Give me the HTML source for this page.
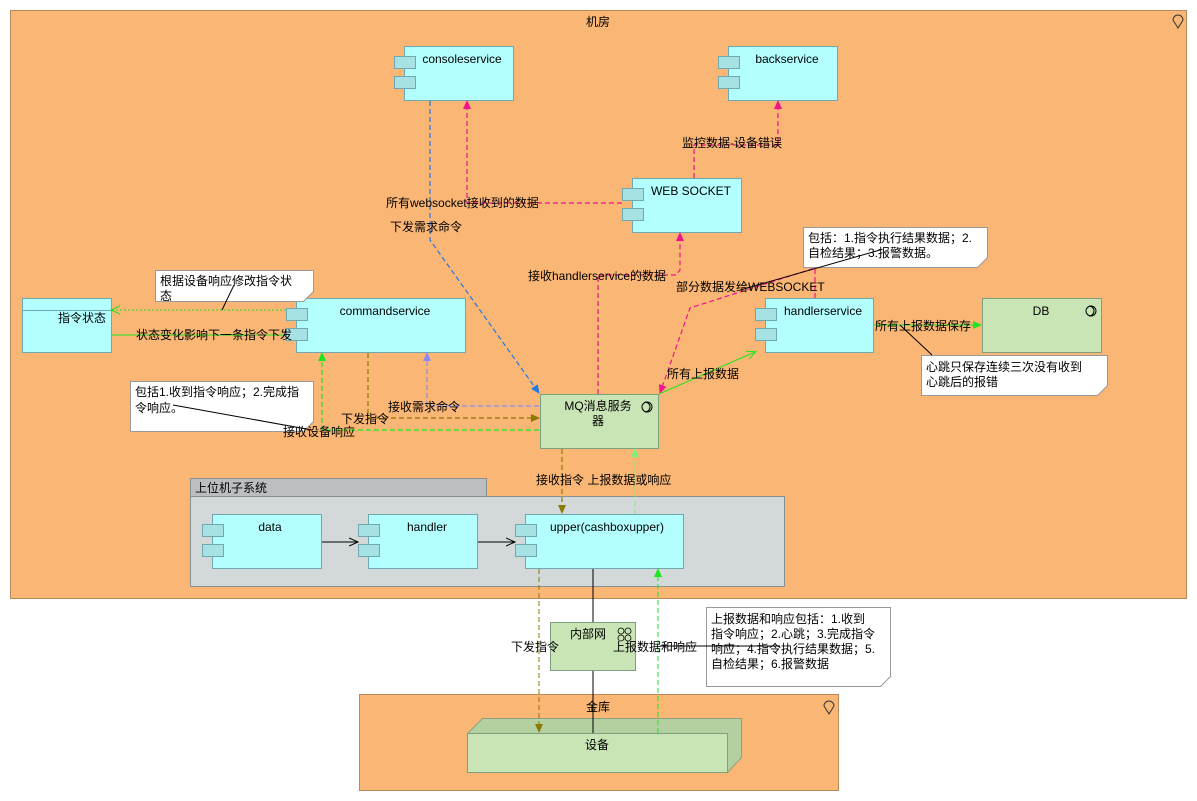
<!DOCTYPE html>
<html><head><meta charset="utf-8"><style>
html,body{margin:0;padding:0;background:#fff;}
svg{display:block;}
text{font-family:"Liberation Sans","Noto Sans CJK SC",sans-serif;font-size:12px;fill:#000;}
.c{fill:#B3FFFF;stroke:#6FA8B0;stroke-width:1;}
.t{fill:#A6E1E3;stroke:#6FA8B0;stroke-width:1;}
.g{fill:#CAE5B5;stroke:#7FA080;stroke-width:1;}
.n{fill:#fff;stroke:#999;stroke-width:1;}
</style></head><body>
<svg width="1197" height="801" viewBox="0 0 1197 801" xmlns="http://www.w3.org/2000/svg">
<defs>
<marker id="ap" markerWidth="10" markerHeight="10" refX="8" refY="5" orient="auto" markerUnits="userSpaceOnUse"><path d="M0,1 L9,5 L0,9 z" fill="#F0148C"/></marker>
<marker id="ab" markerWidth="10" markerHeight="10" refX="8" refY="5" orient="auto" markerUnits="userSpaceOnUse"><path d="M0,1 L9,5 L0,9 z" fill="#1E78E6"/></marker>
<marker id="ag" markerWidth="10" markerHeight="10" refX="8" refY="5" orient="auto" markerUnits="userSpaceOnUse"><path d="M0,1 L9,5 L0,9 z" fill="#1EE61E"/></marker>
<marker id="agl" markerWidth="10" markerHeight="10" refX="8" refY="5" orient="auto" markerUnits="userSpaceOnUse"><path d="M0,1 L9,5 L0,9 z" fill="#7CF07C"/></marker>
<marker id="ao" markerWidth="10" markerHeight="10" refX="8" refY="5" orient="auto" markerUnits="userSpaceOnUse"><path d="M0,1 L9,5 L0,9 z" fill="#8C7A00"/></marker>
<marker id="av" markerWidth="10" markerHeight="10" refX="8" refY="5" orient="auto" markerUnits="userSpaceOnUse"><path d="M0,1 L9,5 L0,9 z" fill="#8C8CF0"/></marker>
<marker id="agn" markerWidth="10" markerHeight="10" refX="8" refY="5" orient="auto" markerUnits="userSpaceOnUse"><path d="M0,1 L9,5 L0,9" fill="none" stroke="#1EE61E"/></marker>
<marker id="agd" markerWidth="10" markerHeight="10" refX="8" refY="5" orient="auto" markerUnits="userSpaceOnUse"><path d="M0,1 L9,5 L0,9" fill="none" stroke="#1EE61E"/></marker>
<marker id="ak" markerWidth="10" markerHeight="10" refX="8" refY="5" orient="auto" markerUnits="userSpaceOnUse"><path d="M0,1 L9,5 L0,9" fill="none" stroke="#000"/></marker>
</defs>

<rect x="10.5" y="10.5" width="1176" height="588" fill="#FAB674" stroke="#B88858"/>
<text x="598" y="26" text-anchor="middle">机房</text>
<path d="M1178,28 L1173,20 A5,5 0 1 1 1183,20 Z" fill="none" stroke="#333"/>

<rect x="190.5" y="478.5" width="296" height="18" fill="#BCBFC0" stroke="#8A9090"/>
<rect x="190.5" y="496.5" width="594" height="90" fill="#D3D9D9" stroke="#8A9090"/>
<text x="195" y="492">上位机子系统</text>

<rect x="359.5" y="694.5" width="479" height="96" fill="#FAB674" stroke="#B88858"/>
<text x="598" y="711" text-anchor="middle">金库</text>
<path d="M829,714 L824,706 A5,5 0 1 1 834,706 Z" fill="none" stroke="#333"/>

<g>
<rect class="c" x="404.5" y="46.5" width="109" height="54"/><rect class="t" x="394.5" y="56.5" width="21" height="12"/><rect class="t" x="394.5" y="76.5" width="21" height="12"/><text x="462" y="63" text-anchor="middle">consoleservice</text>
<rect class="c" x="728.5" y="46.5" width="109" height="54"/><rect class="t" x="718.5" y="56.5" width="21" height="12"/><rect class="t" x="718.5" y="76.5" width="21" height="12"/><text x="787" y="63" text-anchor="middle">backservice</text>
<rect class="c" x="632.5" y="178.5" width="109" height="54"/><rect class="t" x="622.5" y="188.5" width="21" height="12"/><rect class="t" x="622.5" y="208.5" width="21" height="12"/><text x="691" y="195" text-anchor="middle">WEB SOCKET</text>
<rect class="c" x="296.5" y="298.5" width="169" height="54"/><rect class="t" x="286.5" y="308.5" width="21" height="12"/><rect class="t" x="286.5" y="328.5" width="21" height="12"/><text x="385" y="315" text-anchor="middle">commandservice</text>
<rect class="c" x="765.5" y="298.5" width="108" height="54"/><rect class="t" x="755.5" y="308.5" width="21" height="12"/><rect class="t" x="755.5" y="328.5" width="21" height="12"/><text x="823" y="315" text-anchor="middle">handlerservice</text>
<rect class="c" x="212.5" y="514.5" width="109" height="54"/><rect class="t" x="202.5" y="524.5" width="21" height="12"/><rect class="t" x="202.5" y="544.5" width="21" height="12"/><text x="270" y="531" text-anchor="middle">data</text>
<rect class="c" x="368.5" y="514.5" width="109" height="54"/><rect class="t" x="358.5" y="524.5" width="21" height="12"/><rect class="t" x="358.5" y="544.5" width="21" height="12"/><text x="427" y="531" text-anchor="middle">handler</text>
<rect class="c" x="525.5" y="514.5" width="158" height="54"/><rect class="t" x="515.5" y="524.5" width="21" height="12"/><rect class="t" x="515.5" y="544.5" width="21" height="12"/><text x="607" y="531" text-anchor="middle">upper(cashboxupper)</text>
</g>

<rect class="c" x="22.5" y="298.5" width="89" height="54"/>
<line x1="22.5" y1="310.5" x2="111.5" y2="310.5" stroke="#6FA8B0"/>
<text x="82" y="322" text-anchor="middle">指令状态</text>

<rect class="g" x="540.5" y="394.5" width="118" height="54"/>
<text x="598" y="410" text-anchor="middle">MQ消息服务</text>
<text x="598" y="425" text-anchor="middle">器</text>
<circle cx="647" cy="407" r="5" fill="none" stroke="#000"/><path d="M645,402 A5,5 0 0 1 645,412" fill="none" stroke="#000"/>

<rect class="g" x="982.5" y="298.5" width="119" height="54"/>
<text x="1041" y="315" text-anchor="middle">DB</text>
<circle cx="1091" cy="311" r="5" fill="none" stroke="#000"/><path d="M1089,306 A5,5 0 0 1 1089,316" fill="none" stroke="#000"/>

<rect class="g" x="550.5" y="622.5" width="85" height="48"/>
<text x="588" y="638" text-anchor="middle">内部网</text>
<g fill="none" stroke="#000" stroke-width="0.8"><circle cx="621" cy="631" r="3"/><circle cx="628" cy="631" r="3"/><circle cx="621" cy="638" r="3"/><circle cx="628" cy="638" r="3"/></g>

<path d="M467.5,733.5 L482.5,718.5 L741.5,718.5 L741.5,757.5 L727.5,772.5 L727.5,733.5 Z" fill="#B4D0A0" stroke="#8AA080"/>
<rect class="g" x="467.5" y="733.5" width="260" height="39"/>
<text x="597" y="749" text-anchor="middle">设备</text>

<g fill="none" stroke-width="1.2">
<path d="M430,101 L430,240 L539,393" stroke="#1E78E6" stroke-dasharray="5,3" marker-end="url(#ab)"/>
<path d="M622,203 L467,203 L467,101" stroke="#F0148C" stroke-dasharray="5,3" marker-end="url(#ap)"/>
<path d="M694,178 L694,145 L778,145 L778,101" stroke="#F0148C" stroke-dasharray="5,3" marker-end="url(#ap)"/>
<path d="M598,394 L598,275 L676,275 L680,270 L680,233" stroke="#F0148C" stroke-dasharray="5,3" marker-end="url(#ap)"/>
<path d="M815,298 L815,268 L690,308 L660,393" stroke="#F0148C" stroke-dasharray="5,3" marker-end="url(#ap)"/>
<path d="M659,394 L755,352" stroke="#1EE61E" stroke-width="1" marker-end="url(#agn)"/>
<path d="M874,325 L981,325" stroke="#1EE61E" stroke-width="1" marker-end="url(#ag)"/>
<path d="M286,310 L112,310" stroke="#1EE61E" stroke-dasharray="2,2" stroke-width="1" marker-end="url(#agd)"/>
<path d="M286,335 L112,335" stroke="#1EE61E" stroke-width="1"/>
<path d="M539,430 L322,430 L322,353" stroke="#1EE61E" stroke-dasharray="5,3" marker-end="url(#ag)"/>
<path d="M539,406 L427,406 L427,353" stroke="#8C8CF0" stroke-dasharray="5,3" marker-end="url(#av)"/>
<path d="M368,353 L368,418 L539,418" stroke="#8C7A00" stroke-dasharray="5,3" marker-end="url(#ao)"/>
<path d="M562,449 L562,513" stroke="#8C7A00" stroke-dasharray="5,3" marker-end="url(#ao)"/>
<path d="M635,514 L635,449" stroke="#7CF07C" stroke-dasharray="5,3" stroke-width="1" marker-end="url(#agl)"/>
<path d="M322,542 L357,542" stroke="#000" stroke-width="1" marker-end="url(#ak)"/>
<path d="M478,542 L514,542" stroke="#000" stroke-width="1" marker-end="url(#ak)"/>
<path d="M593,569 L593,622 M593,671 L593,733" stroke="#000" stroke-width="1"/>
<path d="M539,569 L539,732" stroke="#8C7A00" stroke-dasharray="5,3" stroke-width="1" marker-end="url(#ao)"/>
<path d="M658,733 L658,569" stroke="#1EE61E" stroke-dasharray="5,3" stroke-width="1" marker-end="url(#ag)"/>
</g>

<path class="n" d="M155.5,270.5 L313.5,270.5 L313.5,291.5 L303.5,301.5 L155.5,301.5 Z"/>
<text x="160" y="285">根据设备响应修改指令状</text><text x="160" y="300">态</text>
<line x1="234" y1="285" x2="222" y2="310" stroke="#000"/>
<path class="n" d="M130.5,381.5 L313.5,381.5 L313.5,421.5 L303.5,431.5 L130.5,431.5 Z"/>
<text x="135" y="396">包括1.收到指令响应；2.完成指</text><text x="135" y="412">令响应。</text>
<line x1="173" y1="405" x2="312" y2="430" stroke="#000"/>
<path class="n" d="M803.5,227.5 L987.5,227.5 L987.5,257.5 L977.5,267.5 L803.5,267.5 Z"/>
<text x="808" y="242">包括：1.指令执行结果数据；2.</text><text x="808" y="257">自检结果；3.报警数据。</text>
<line x1="880" y1="250" x2="740" y2="290" stroke="#000"/>
<path class="n" d="M921.5,355.5 L1107.5,355.5 L1107.5,385.5 L1097.5,395.5 L921.5,395.5 Z"/>
<text x="926" y="371">心跳只保存连续三次没有收到</text><text x="926" y="386">心跳后的报错</text>
<line x1="932" y1="355" x2="900" y2="325" stroke="#000"/>
<path class="n" d="M706.5,607.5 L890.5,607.5 L890.5,676.5 L880.5,686.5 L706.5,686.5 Z"/>
<text x="711" y="623">上报数据和响应包括：1.收到</text><text x="711" y="638">指令响应；2.心跳；3.完成指令</text><text x="711" y="653">响应；4.指令执行结果数据；5.</text><text x="711" y="668">自检结果；6.报警数据</text>
<line x1="660" y1="646" x2="780" y2="646" stroke="#000"/>

<text x="386" y="207">所有websocket接收到的数据</text>
<text x="390" y="231">下发需求命令</text>
<text x="682" y="147">监控数据-设备错误</text>
<text x="528" y="280">接收handlerservice的数据</text>
<text x="676" y="291">部分数据发给WEBSOCKET</text>
<text x="667" y="378">所有上报数据</text>
<text x="875" y="330">所有上报数据保存</text>
<text x="136" y="339">状态变化影响下一条指令下发</text>
<text x="388" y="411">接收需求命令</text>
<text x="341" y="423">下发指令</text>
<text x="283" y="436">接收设备响应</text>
<text x="536" y="484">接收指令 上报数据或响应</text>
<text x="511" y="651">下发指令</text>
<text x="613" y="651">上报数据和响应</text>
</svg>
</body></html>
